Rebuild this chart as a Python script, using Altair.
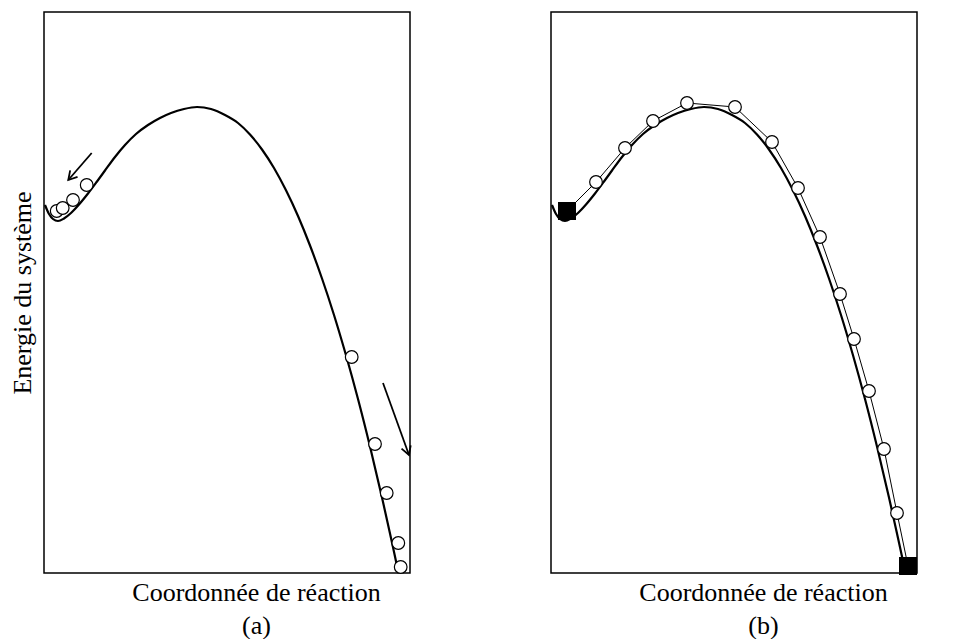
import altair as alt
import pandas as pd
import numpy as np

# ---- data (reaction coordinate x, energy e) ----
# energy profile (same curve in both panels)
curve_x = [1, 5, 9, 14, 20, 27, 35, 44, 53, 61, 71, 81, 92, 104, 116, 127, 140, 153, 167, 181,
           194, 206, 218, 230, 242, 254, 266, 278, 290, 302, 314, 326, 338, 346, 354, 354.4]
curve_e = [368, 359, 354, 352, 354.5, 360, 368.5, 379.5, 391.5, 402.5, 416, 428, 439, 448, 455, 460, 464, 466,
           464, 458, 450, 438.5, 423.5, 405, 382.7, 357, 327.5, 294.5, 258, 217.7, 174, 126.5, 75.5, 39.5,
           2, 0]

# panel (a): images sliding into the minima
a_ball_x = [12.7, 18.7, 29, 42.7, 307.7, 331, 342.7, 354.3, 356.7]
a_ball_e = [362, 365, 373, 388, 216, 129, 80, 30, 6]

# panel (a): arrows (start -> end)
arrow_x0 = [47.7, 339]
arrow_e0 = [420, 190]
arrow_x1 = [24.3, 365]
arrow_e1 = [393, 118]

# panel (b): elastic band (first and last are fixed end points)
b_path_x = [16, 45, 74, 102, 136, 184, 221, 247, 269, 289, 303, 318, 333, 346, 357]
b_path_e = [362, 391, 425, 452, 470, 466, 431, 385, 336, 279, 234, 182, 124, 60, 7]

x_title_a = ["Coordonnée de réaction", "(a)"]
x_title_b = ["Coordonnée de réaction", "(b)"]
y_title = "Energie du système"

# ---- tables ----
df_curve = pd.DataFrame({"x": curve_x, "e": curve_e})
df_a = pd.DataFrame({"x": a_ball_x, "e": a_ball_e})
df_shaft = pd.DataFrame({
    "x": arrow_x0 + arrow_x1,
    "e": arrow_e0 + arrow_e1,
    "id": list(range(len(arrow_x0))) * 2,
})
ang = (np.degrees(np.arctan2(np.array(arrow_x1) - np.array(arrow_x0),
                             np.array(arrow_e1) - np.array(arrow_e0))) + 360) % 360
df_head = pd.DataFrame({"x": arrow_x1, "e": arrow_e1, "angle": ang})
n = len(b_path_x)
df_b = pd.DataFrame({"x": b_path_x, "e": b_path_e, "i": range(n),
                     "kind": ["end"] + ["image"] * (n - 2) + ["end"]})

W, H = 366, 561
FONT = "Liberation Serif"
xs = alt.Scale(domain=[0, W], nice=False, zero=False)
ys = alt.Scale(domain=[0, H], nice=False, zero=False)


def xenc(title):
    return alt.X("x:Q", scale=xs, axis=alt.Axis(
        title=title, labels=False, ticks=False, domain=False, grid=False,
        titleFont=FONT, titleFontSize=26, titleFontWeight="normal", titleColor="black",
        titleX=212, titleLineHeight=33, titlePadding=6))


def yenc(show):
    if show:
        return alt.Y("e:Q", scale=ys, axis=alt.Axis(
            title=y_title, labels=False, ticks=False, domain=False, grid=False,
            titleFont=FONT, titleFontSize=26, titleFontWeight="normal", titleColor="black",
            titlePadding=9, minExtent=0, maxExtent=0))
    return alt.Y("e:Q", scale=ys, axis=None)


def curve_layer(title, show_y):
    return alt.Chart(df_curve).mark_line(color="black", strokeWidth=2.2, interpolate="monotone").encode(
        x=xenc(title), y=yenc(show_y))


# panel (a)
a_curve = curve_layer(x_title_a, True)
a_balls = alt.Chart(df_a).mark_point(shape="circle", filled=True, fill="white", stroke="black",
                                     strokeWidth=1.2, size=160, opacity=1).encode(
    x=xenc(x_title_a), y=yenc(True))
a_shaft = alt.Chart(df_shaft).mark_line(color="black", strokeWidth=1.8).encode(
    x=xenc(x_title_a), y=yenc(True), detail="id:N")
a_head = alt.Chart(df_head).mark_point(shape="M -0.5 0.87 L 0 0 L 0.5 0.87", filled=False,
                                       stroke="black", strokeWidth=1.8, size=380, opacity=1).encode(
    x=xenc(x_title_a), y=yenc(True), angle=alt.Angle("angle:Q", scale=None))
panel_a = alt.layer(a_curve, a_shaft, a_head, a_balls).properties(width=W, height=H)

# panel (b)
b_curve = curve_layer(x_title_b, False)
b_line = alt.Chart(df_b).mark_line(color="black", strokeWidth=1).encode(
    x=xenc(x_title_b), y=yenc(False), order="i:Q")
b_img = alt.Chart(df_b).transform_filter(alt.datum.kind == "image").mark_point(
    shape="circle", filled=True, fill="white", stroke="black", strokeWidth=1.2, size=160, opacity=1).encode(
    x=xenc(x_title_b), y=yenc(False))
b_end = alt.Chart(df_b).transform_filter(alt.datum.kind == "end").mark_square(
    color="black", size=324, opacity=1).encode(x=xenc(x_title_b), y=yenc(False))
panel_b = alt.layer(b_curve, b_line, b_img, b_end).properties(width=W, height=H)

chart = alt.hconcat(panel_a, panel_b, spacing=130).configure_view(
    stroke="black", strokeWidth=1.5).properties(
    padding={"left": 0, "top": 3, "right": 0, "bottom": 0})

chart.save("out.html", embed_options={"renderer": "svg", "actions": False})
